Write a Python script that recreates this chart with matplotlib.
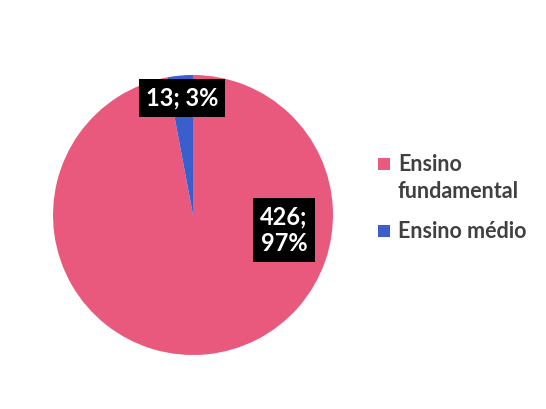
import matplotlib.pyplot as plt
import numpy as np
from matplotlib.patches import Rectangle

categories = ["Ensino\nfundamental", "Ensino médio"]
values = [426, 13]
percents = ["97%", "3%"]
colors = ["#E9587D", "#3A5FCD"]

plt.rcParams['font.family'] = ['Lato', 'DejaVu Sans']

fig = plt.figure(figsize=(5.46, 4.09), dpi=100)
ax = fig.add_axes([0.0971, 0.132, 0.5128, 0.6846])

wedges, _ = ax.pie(values, colors=colors, startangle=90, counterclock=False,
                   wedgeprops=dict(linewidth=0))
ax.set_xlim(-1, 1)
ax.set_ylim(-1, 1)
ax.set_aspect('equal')

box = dict(boxstyle='square,pad=0.3', facecolor='black', edgecolor='none')
# blue label sits on its wedge, pink label placed to the right (best fit)
w = wedges[1]
mid = np.deg2rad((w.theta1 + w.theta2) / 2)
ax.text(0.84 * np.cos(mid), 0.84 * np.sin(mid), f"{values[1]}; {percents[1]}",
        ha='center', va='center', color='white', fontsize=17, fontweight='bold',
        bbox=box)
ax.text(0.65, -0.11, f"{values[0]};\n{percents[0]}", ha='center', va='center',
        color='white', fontsize=17, fontweight='bold', bbox=box, linespacing=1.2)

# legend drawn by hand: square aligned with first text line, like Excel
W, H = fig.get_size_inches() * fig.dpi
line_px = 27
entry_gap_px = 13
y = 171  # baseline of first line, px from top
for cat, col in zip(categories, colors):
    lines = cat.split("\n")
    fig.patches.append(Rectangle((378 / W, 1 - (y - 1) / H), 12 / W, 12 / H,
                                 facecolor=col, edgecolor='none',
                                 transform=fig.transFigure))
    for ln in lines:
        fig.text(398 / W, 1 - y / H, ln, ha='left', va='baseline',
                 color='#404040', fontsize=15.5, fontweight='bold')
        y += line_px
    y += entry_gap_px

fig.savefig("out.png", dpi=100)
